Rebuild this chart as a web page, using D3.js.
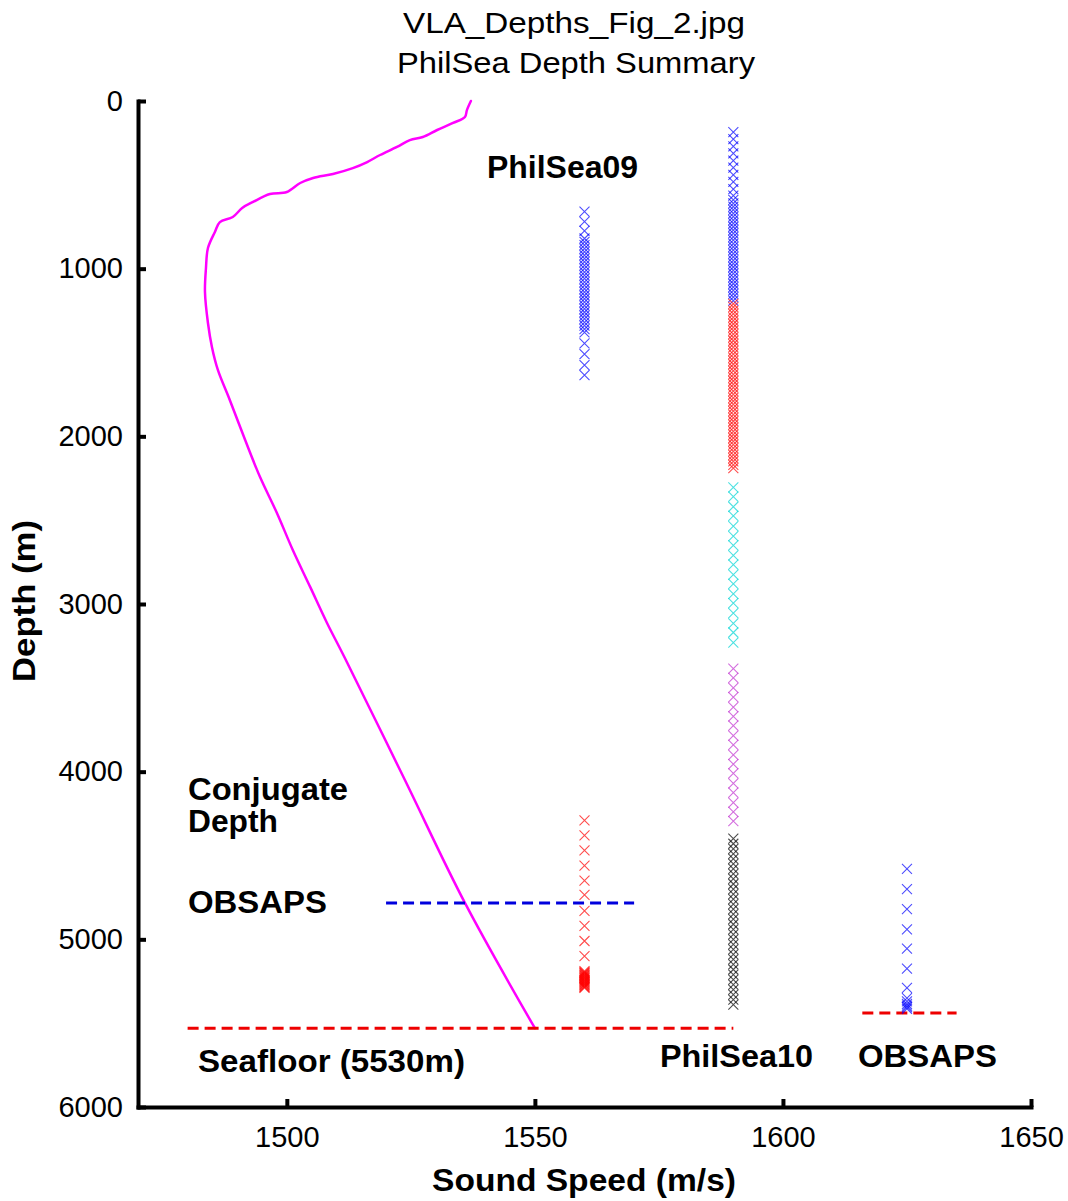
<!DOCTYPE html>
<html>
<head>
<meta charset="utf-8">
<script src="https://cdn.jsdelivr.net/npm/d3@7"></script>
<style>
  html, body { margin: 0; padding: 0; background: #fff; }
  svg { display: block; }
  text { font-family: "Liberation Sans", Arial, Helvetica, sans-serif; fill: #000; }
</style>
</head>
<body>
<svg id="chart" width="1068" height="1201"></svg>
<script>
// ---------------- DATA ----------------
const titleLines = ["VLA_Depths_Fig_2.jpg", "PhilSea Depth Summary"];
const xLabel = "Sound Speed (m/s)";
const yLabel = "Depth (m)";
const xTicks = [1500, 1550, 1600, 1650];
const yTicks = [0, 1000, 2000, 3000, 4000, 5000, 6000];
const xDomain = [1470, 1650];
const yDomain = [0, 6000];

// Sound speed profile (m/s vs depth m)
const sspSpeed = [1537.1, 1536.3, 1535.9, 1533.5, 1530.3, 1527.4, 1524.8, 1522.2, 1518.8, 1516.2,
  1513.3, 1509.3, 1505.3, 1502.7, 1500.0, 1496.6, 1493.2, 1491.0, 1489.1, 1486.5,
  1485.5, 1484.1, 1483.7, 1483.5, 1484.1, 1484.9, 1486.1, 1488.5, 1491.6, 1494.6,
  1498.0, 1501.2, 1504.7, 1508.1, 1511.7, 1523.8, 1535.9, 1550.0];
const sspDepth = [0, 54, 95, 131, 173, 215, 233, 274, 322, 364,
  400, 435, 459, 489, 543, 555, 602, 638, 692, 722,
  781, 877, 996, 1139, 1324, 1467, 1604, 1783, 2022, 2243,
  2457, 2678, 2898, 3113, 3322, 4050, 4783, 5530];

// Hydrophone depths
const ps09Depths = [660, 720, 775, 820, 840, 860, 880, 900, 920, 940, 960, 980, 1000, 1020, 1040,
  1060, 1080, 1100, 1120, 1140, 1160, 1180, 1200, 1220, 1240, 1260, 1280, 1300, 1320, 1340,
  1360, 1380, 1445, 1510, 1575, 1635];
const ps10BlueDepths = [185, 228, 270, 313, 355, 398, 440, 483, 525, 565, 590, 610, 630, 650, 670,
  690, 710, 730, 750, 770, 790, 810, 830, 850, 870, 890, 910, 930, 950, 970, 990, 1010, 1030,
  1050, 1070, 1090, 1110, 1130, 1150, 1170, 1190];
const ps10RedDepths = [1210, 1230, 1250, 1270, 1290, 1310, 1330, 1350, 1370, 1390, 1410, 1430, 1450,
  1470, 1490, 1510, 1530, 1550, 1570, 1590, 1610, 1630, 1650, 1670, 1690, 1710, 1730, 1750, 1770,
  1790, 1810, 1830, 1850, 1870, 1890, 1910, 1930, 1950, 1970, 1990, 2010, 2030, 2050, 2070, 2090,
  2110, 2130, 2150, 2170, 2190];
const ps10CyanDepths = [2305, 2360, 2420, 2475, 2535, 2595, 2650, 2710, 2765, 2825, 2880, 2940,
  2995, 3055, 3115, 3170, 3230];
const ps10MagentaDepths = [3385, 3440, 3500, 3555, 3615, 3670, 3725, 3785, 3840, 3900, 3955, 4010,
  4070, 4125, 4185, 4240, 4295];
const ps10BlackDepths = [4400, 4430, 4460, 4490, 4520, 4550, 4580, 4610, 4640, 4670, 4700, 4730,
  4760, 4790, 4820, 4850, 4880, 4910, 4940, 4970, 5000, 5030, 5060, 5090, 5120, 5150, 5180, 5210,
  5240, 5270, 5300, 5330, 5360, 5390];
const conjugateDepths = [4290, 4380, 4470, 4560, 4650, 4735, 4830, 4920, 5010, 5100, 5190, 5195,
  5200, 5205, 5210, 5215, 5220, 5225, 5230, 5235, 5240, 5245, 5250, 5255, 5260, 5265, 5270, 5275,
  5280, 5285, 5290];
const obsapsDepths = [4580, 4700, 4820, 4940, 5055, 5175, 5290, 5350, 5370, 5385, 5395, 5405, 5415];

const groupSpeeds = [1560, 1590, 1590, 1590, 1590, 1590, 1560, 1625];
const groupDepths = [ps09Depths, ps10BlueDepths, ps10RedDepths, ps10CyanDepths,
  ps10MagentaDepths, ps10BlackDepths, conjugateDepths, obsapsDepths];

// Dashed reference lines: [speedStart, speedEnd, depth]
const refLineStart = [1480, 1520, 1616];
const refLineEnd = [1590, 1570, 1635];
const refLineDepth = [5530, 4783, 5440];

// Annotations (anchored in data coords)
const annoText = ["PhilSea09", "Conjugate", "Depth", "OBSAPS", "Seafloor (5530m)", "PhilSea10", "OBSAPS"];
const annoSpeed = [1540.35, 1480.08, 1480.08, 1480.08, 1482.09, 1575.22, 1615.13];
const annoDepth = [459, 4169, 4360, 4843, 5791, 5761, 5761];

// ---------------- STYLE ----------------
const groupColors = ["#0000ff", "#0000ff", "#ff0000", "#00d4d4", "#c030d0", "#000000", "#ff0000", "#0000ff"];
const refLineColors = ["#ee0000", "#0000dd", "#ee0000"];
const annoWidths = [151, 160, 90, 139, 267, 153, 139];

// ---------------- DRAW ----------------
const svg = d3.select("#chart");
const x = d3.scaleLinear().domain(xDomain).range([138, 1031]);
const y = d3.scaleLinear().domain(yDomain).range([101, 1107]);

// Title
const titleBase = [33, 73];
const titleStart = [403, 397];
const titleWidth = [342, 358];
svg.selectAll("text.title").data(titleLines).join("text")
  .attr("class", "title")
  .attr("x", (d, i) => titleStart[i])
  .attr("y", (d, i) => titleBase[i])
  .attr("font-size", 29)
  .attr("textLength", (d, i) => titleWidth[i])
  .attr("lengthAdjust", "spacingAndGlyphs")
  .text(d => d);

// Sound speed profile
const line = d3.line()
  .x((d, i) => x(sspSpeed[i]))
  .y((d, i) => y(sspDepth[i]))
  .curve(d3.curveCatmullRom.alpha(0.5));
svg.append("path")
  .datum(sspSpeed)
  .attr("d", line)
  .attr("fill", "none")
  .attr("stroke", "#ff00ff")
  .attr("stroke-width", 2.5)
  .attr("stroke-linejoin", "round")
  .attr("stroke-linecap", "round");

// Reference dashed lines
svg.selectAll("line.ref").data(refLineDepth).join("line")
  .attr("class", "ref")
  .attr("x1", (d, i) => x(refLineStart[i]))
  .attr("x2", (d, i) => x(refLineEnd[i]))
  .attr("y1", d => y(d))
  .attr("y2", d => y(d))
  .attr("stroke", (d, i) => refLineColors[i])
  .attr("stroke-width", 3)
  .attr("stroke-dasharray", "11,6");

// Hydrophone crosses
const crossPath = "M-5,-5L5,5M-5,5L5,-5";
groupDepths.forEach((depths, gi) => {
  svg.append("g")
    .selectAll("path")
    .data(depths)
    .join("path")
    .attr("d", crossPath)
    .attr("transform", d => `translate(${x(groupSpeeds[gi])},${y(d)})`)
    .attr("fill", "none")
    .attr("stroke", groupColors[gi])
    .attr("stroke-opacity", 0.7)
    .attr("stroke-width", 1.1);
});

// Axes
const yAxis = d3.axisLeft(y).tickValues(yTicks).tickSizeInner(-8).tickSizeOuter(0).tickPadding(15)
  .tickFormat(d3.format("d"));
const gy = svg.append("g").attr("transform", "translate(138,0)").call(yAxis);
const xAxis = d3.axisBottom(x).tickValues(xTicks).tickSizeInner(-8).tickSizeOuter(0).tickPadding(19)
  .tickFormat(d3.format("d"));
const gx = svg.append("g").attr("transform", "translate(0,1107)").call(xAxis);
[gx, gy].forEach(g => {
  g.select(".domain").attr("stroke", "#000").attr("stroke-width", 4).attr("stroke-linecap", "square");
  g.selectAll(".tick line").attr("stroke", "#000").attr("stroke-width", 4);
  g.selectAll(".tick text").attr("font-size", 29).attr("fill", "#000")
    .attr("font-family", '"Liberation Sans", Arial, Helvetica, sans-serif');
});

// Axis labels
svg.append("text")
  .attr("x", 584).attr("y", 1191)
  .attr("text-anchor", "middle")
  .attr("font-size", 31).attr("font-weight", "bold")
  .attr("textLength", 304).attr("lengthAdjust", "spacingAndGlyphs")
  .text(xLabel);
svg.append("text")
  .attr("transform", "translate(35,601) rotate(-90)")
  .attr("text-anchor", "middle")
  .attr("font-size", 31).attr("font-weight", "bold")
  .attr("textLength", 162).attr("lengthAdjust", "spacingAndGlyphs")
  .text(yLabel);

// Annotations
svg.selectAll("text.anno").data(annoText).join("text")
  .attr("class", "anno")
  .attr("x", (d, i) => x(annoSpeed[i]))
  .attr("y", (d, i) => y(annoDepth[i]))
  .attr("font-size", 31)
  .attr("font-weight", "bold")
  .attr("textLength", (d, i) => annoWidths[i])
  .attr("lengthAdjust", "spacingAndGlyphs")
  .text(d => d);
</script>
</body>
</html>
